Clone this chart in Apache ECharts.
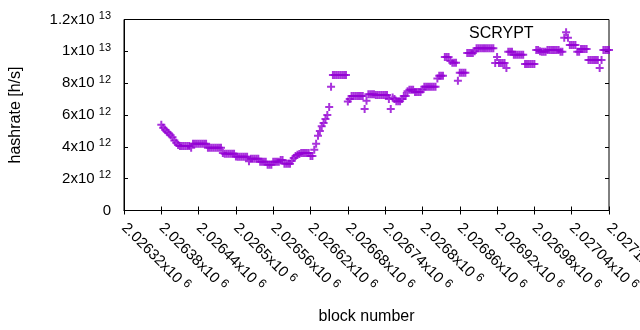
<!DOCTYPE html>
<html>
<head>
<meta charset="utf-8">
<script src="https://cdn.jsdelivr.net/npm/echarts@6/dist/echarts.min.js"></script>
<style>
  html, body { margin: 0; padding: 0; background: #fff; }
  #chart { width: 640px; height: 330px; }
</style>
</head>
<body>
<div id="chart"></div>
<script>
// block numbers (x)
const blockNumber = [
  2026380, 2026383, 2026386, 2026389, 2026392, 2026395, 2026398, 2026401, 2026404, 2026407,
  2026410, 2026413, 2026416, 2026419, 2026422, 2026425, 2026428, 2026431, 2026434, 2026437,
  2026440, 2026443, 2026446, 2026449, 2026452, 2026455, 2026458, 2026461, 2026464, 2026467,
  2026470, 2026473, 2026476, 2026479, 2026482, 2026485, 2026488, 2026491, 2026494, 2026497,
  2026500, 2026503, 2026506, 2026509, 2026512, 2026515, 2026518, 2026521, 2026524, 2026527,
  2026530, 2026533, 2026536, 2026539, 2026542, 2026545, 2026548, 2026551, 2026554, 2026557,
  2026560, 2026563, 2026566, 2026569, 2026572, 2026575, 2026578, 2026581, 2026584, 2026587,
  2026590, 2026593, 2026596, 2026599, 2026602, 2026605, 2026608, 2026611, 2026614, 2026617,
  2026620, 2026623, 2026626, 2026629, 2026632, 2026635, 2026638, 2026641, 2026644, 2026647,
  2026650, 2026653, 2026656, 2026659, 2026662, 2026665, 2026668, 2026671, 2026674, 2026677,
  2026680, 2026683, 2026686, 2026689, 2026692, 2026695, 2026698, 2026701, 2026704, 2026707,
  2026710, 2026713, 2026716, 2026719, 2026722, 2026725, 2026728, 2026731, 2026734, 2026737,
  2026740, 2026743, 2026746, 2026749, 2026752, 2026755, 2026758, 2026761, 2026764, 2026767,
  2026770, 2026773, 2026776, 2026779, 2026782, 2026785, 2026788, 2026791, 2026794, 2026797,
  2026800, 2026803, 2026806, 2026809, 2026812, 2026815, 2026818, 2026821, 2026824, 2026827,
  2026830, 2026833, 2026836, 2026839, 2026842, 2026845, 2026848, 2026851, 2026854, 2026857,
  2026860, 2026863, 2026866, 2026869, 2026872, 2026875, 2026878, 2026881, 2026884, 2026887,
  2026890, 2026893, 2026896, 2026899, 2026902, 2026905, 2026908, 2026911, 2026914, 2026917,
  2026920, 2026923, 2026926, 2026929, 2026932, 2026935, 2026938, 2026941, 2026944, 2026947,
  2026950, 2026953, 2026956, 2026959, 2026962, 2026965, 2026968, 2026971, 2026974, 2026977,
  2026980, 2026983, 2026986, 2026989, 2026992, 2026995, 2026998, 2027001, 2027004, 2027007,
  2027010, 2027013, 2027016, 2027019, 2027022, 2027025, 2027028, 2027031, 2027034, 2027037,
  2027040, 2027043, 2027046, 2027049, 2027052, 2027055, 2027058, 2027061, 2027064, 2027067,
  2027070, 2027073, 2027076, 2027079, 2027082, 2027085, 2027088, 2027091, 2027094, 2027097,
  2027100
];

// hashrate in units of 10^12 h/s
const hashrateE12 = [
  5.38, 5.2, 5.07, 4.95, 4.85, 4.72, 4.6, 4.4, 4.25, 4.12,
  4.06, 4.06, 4.06, 4.06, 4.06, 4.06, 3.94, 4.19, 4.19, 4.19,
  4.19, 4.19, 4.19, 4.19, 4.19, 3.94, 3.94, 3.94, 3.94, 3.94,
  3.94, 3.94, 3.94, 3.62, 3.56, 3.56, 3.56, 3.56, 3.56, 3.56,
  3.4, 3.37, 3.37, 3.37, 3.37, 3.37, 3.37, 3.1, 3.25, 3.25,
  3.25, 3.25, 3.25, 3.06, 3.06, 3.06, 3.06, 2.87, 2.87, 2.87,
  3.06, 3.06, 3.06, 3.06, 3.18, 3.18, 2.93, 2.93, 2.93, 2.93,
  3.12, 3.3, 3.43, 3.5, 3.55, 3.62, 3.62, 3.62, 3.62, 3.62,
  3.43, 3.43, 3.81, 4.19, 4.69, 5.0, 5.3, 5.5, 5.75, 6.0,
  6.5, 7.77, 8.52, 8.52, 8.52, 8.52, 8.52, 8.52, 8.52, 8.52,
  6.85, 7.0, 7.2, 7.2, 7.2, 7.2, 7.2, 7.2, 7.2, 6.38,
  6.9, 7.3, 7.3, 7.3, 7.3, 7.25, 7.25, 7.25, 7.25, 7.25,
  7.25, 7.25, 7.0, 6.38, 7.1, 7.0, 6.86, 6.86, 6.86, 7.0,
  7.2, 7.2, 7.5, 7.58, 7.58, 7.58, 7.45, 7.45, 7.45, 7.45,
  7.6, 7.77, 7.77, 7.77, 7.77, 7.77, 7.77, 7.77, 8.3, 8.46,
  8.46, 8.46, 9.65, 9.65, 9.65, 9.4, 9.28, 9.28, 9.28, 8.15,
  8.65, 8.65, 8.65, 8.65, 9.9, 9.9, 9.9, 9.9, 10.0, 10.2,
  10.2, 10.2, 10.2, 10.2, 10.2, 10.2, 10.2, 10.2, 10.2, 9.27,
  9.65, 9.27, 9.27, 9.27, 9.27, 8.96, 9.97, 9.97, 9.97, 9.78,
  9.78, 9.78, 9.78, 9.78, 9.78, 9.21, 9.21, 9.21, 9.21, 9.21,
  9.21, 10.08, 10.08, 10.0, 9.97, 9.97, 9.97, 10.08, 10.08, 10.08,
  10.08, 10.08, 10.08, 10.08, 9.97, 9.97, 10.85, 11.2, 10.85, 10.4,
  10.4, 10.4, 10.4, 9.97, 9.97, 10.15, 10.15, 10.15, 10.15, 9.46,
  9.46, 9.46, 9.46, 9.46, 9.46, 8.96, 9.46, 10.08, 10.08, 10.08,
  10.08
];

const seriesName = 'SCRYPT';

const points = blockNumber.map((b, i) => [b, hashrateE12[i] * 1e12]);

// gnuplot style "+" point
const plusSymbol = 'path://M0,3H3V0H5V3H8V5H5V8H3V5H0Z';

const font = '"Liberation Sans", Arial, sans-serif';

function xLabel(v) {
  const m = (v / 1e6).toFixed(5).replace(/0+$/, '').replace(/\.$/, '');
  return m + 'x10 {s|6}';
}

function yLabel(v) {
  if (v === 0) return '0';
  const exp = Math.floor(Math.log10(v) + 1e-9);
  const m = +(v / Math.pow(10, exp)).toFixed(3);
  return m + 'x10 {s|' + exp + '}';
}

const supStyle = { fontSize: 11, fontFamily: font, color: '#000', verticalAlign: 'top', lineHeight: 11 };
const xSupStyle = { fontSize: 12, fontFamily: font, color: '#000', verticalAlign: 'top', lineHeight: 12 };

const myChart = echarts.init(document.getElementById('chart'));

const option = {
  animation: false,
  backgroundColor: '#fff',
  grid: {
    left: 124,
    top: 19.5,
    right: 31,
    bottom: 119.5,
    outerBoundsMode: 'none',
    containLabel: false,
    show: true,
    borderColor: '#000',
    borderWidth: 1
  },
  legend: {
    data: [{ name: seriesName, icon: 'none' }],
    left: 459,
    top: 21,
    itemWidth: 0,
    textStyle: { fontFamily: font, fontSize: 16, color: '#000' }
  },
  xAxis: [{
    type: 'value',
    min: 2026320,
    max: 2027100,
    interval: 60,
    name: 'block number',
    nameLocation: 'middle',
    nameGap: 98,
    nameTextStyle: { fontFamily: font, fontSize: 16, color: '#000' },
    axisLine: { lineStyle: { color: '#000' } },
    axisTick: { inside: true, length: 4, lineStyle: { color: '#000' } },
    splitLine: { show: false },
    axisLabel: {
      rotate: -45,
      margin: 15,
      showMaxLabel: true,
      hideOverlap: false,
      fontFamily: font,
      fontSize: 15,
      color: '#000',
      lineHeight: 19,
      formatter: xLabel,
      rich: { s: xSupStyle }
    }
  }, {
    type: 'value',
    position: 'top',
    min: 2026320,
    max: 2027100,
    interval: 60,
    axisLine: { show: false },
    axisTick: { inside: true, length: 4, lineStyle: { color: '#000' } },
    axisLabel: { show: false },
    splitLine: { show: false }
  }],
  yAxis: [{
    type: 'value',
    min: 0,
    max: 1.2e13,
    interval: 2e12,
    name: 'hashrate [h/s]',
    nameLocation: 'middle',
    nameGap: 100,
    nameTextStyle: { fontFamily: font, fontSize: 16, color: '#000' },
    axisLine: { show: true, lineStyle: { color: '#000' } },
    axisTick: { show: true, inside: true, length: 4, lineStyle: { color: '#000' } },
    splitLine: { show: false },
    axisLabel: {
      margin: 13,
      fontFamily: font,
      fontSize: 15,
      color: '#000',
      lineHeight: 18,
      formatter: yLabel,
      rich: { s: supStyle }
    }
  }, {
    type: 'value',
    position: 'right',
    min: 0,
    max: 1.2e13,
    interval: 2e12,
    axisLine: { show: false },
    axisTick: { show: true, inside: true, length: 4, lineStyle: { color: '#000' } },
    axisLabel: { show: false },
    splitLine: { show: false }
  }],
  series: [{
    name: seriesName,
    type: 'scatter',
    symbol: plusSymbol,
    symbolSize: 8,
    itemStyle: { color: '#9400d3' },
    data: points
  }]
};

myChart.setOption(option);
</script>
</body>
</html>
